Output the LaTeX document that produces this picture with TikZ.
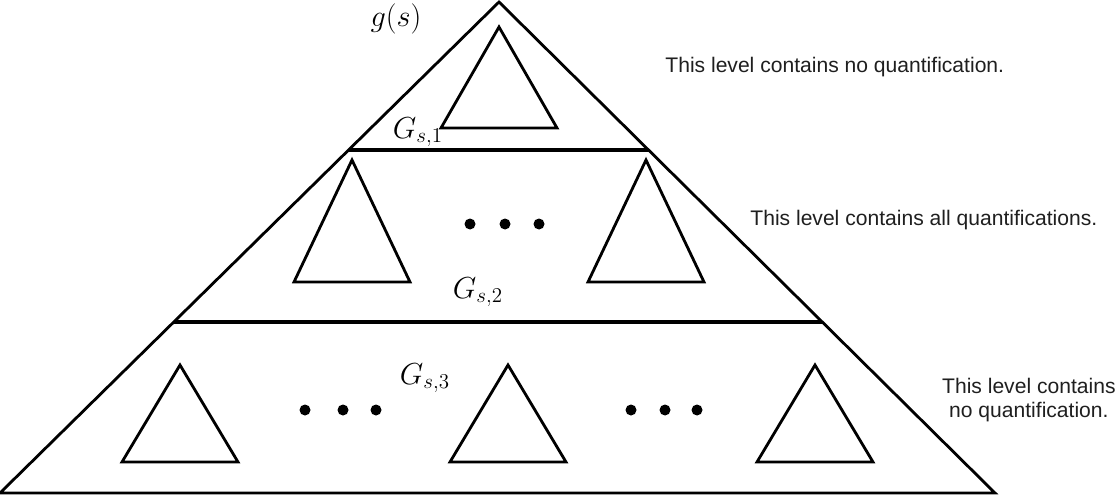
\documentclass[tikz,border=0pt]{standalone}
\usepackage{fontspec}
\newfontfamily\notefont{Liberation Sans}
\usetikzlibrary{calc}

\begin{document}
\begin{tikzpicture}[x=0.02cm, y=-0.02cm, line width=1.6pt,
  subtree/.style={draw, line width=1.6pt},
  levelline/.style={draw, line width=1.9pt},
  levelnote/.style={font=\notefont\large, text=black!88, inner sep=0pt},
  sublabel/.style={font=\LARGE}]
  \useasboundingbox (0,0) rectangle (1119,500);

  % Outer tree g(s)
  \coordinate (apex) at (499,2);
  \coordinate (bl) at (0,493);
  \coordinate (br) at (995,493);
  \draw (apex) -- (bl) -- (br) -- cycle;

  % Level separators (on the outer sides)
  \draw[levelline] ($(apex)!{148/491}!(bl)$) -- ($(apex)!{148/491}!(br)$);
  \draw[levelline] ($(apex)!{320/491}!(bl)$) -- ($(apex)!{320/491}!(br)$);

  % Subtrees: centre x / apex y / base y
  \foreach \cx/\ty/\by in {499/27/128, 352/160/282, 646/160/282,
                           180/365/462, 508/365/462, 815/365/462} {
    \draw[subtree] (\cx,\ty) -- (\cx-58,\by) -- (\cx+58,\by) -- cycle;
  }

  % Ellipsis dots
  \foreach \x in {470,505,539} \fill (\x,224) circle[radius=5.5];
  \foreach \x in {305,343,376,631,665,697} \fill (\x,410) circle[radius=5.5];

  % Labels
  \node[sublabel] (gs) at (396,19) {$g(s)$};
  \node[sublabel] (G1) at (418,132) {$G_{s,1}$};
  \node[sublabel] (G2) at (478,292) {$G_{s,2}$};
  \node[sublabel] (G3) at (425,378) {$G_{s,3}$};

  % Level notes
  \node[levelnote, anchor=base west] (note1) at (664,73) {This level contains no quantification.};
  \node[levelnote, anchor=base west] (note2) at (749,225) {This level contains all quantifications.};
  \node[levelnote, align=center, anchor=east] (note3) at (1117,400) {This level contains\\no quantification.};
\end{tikzpicture}
\end{document}
